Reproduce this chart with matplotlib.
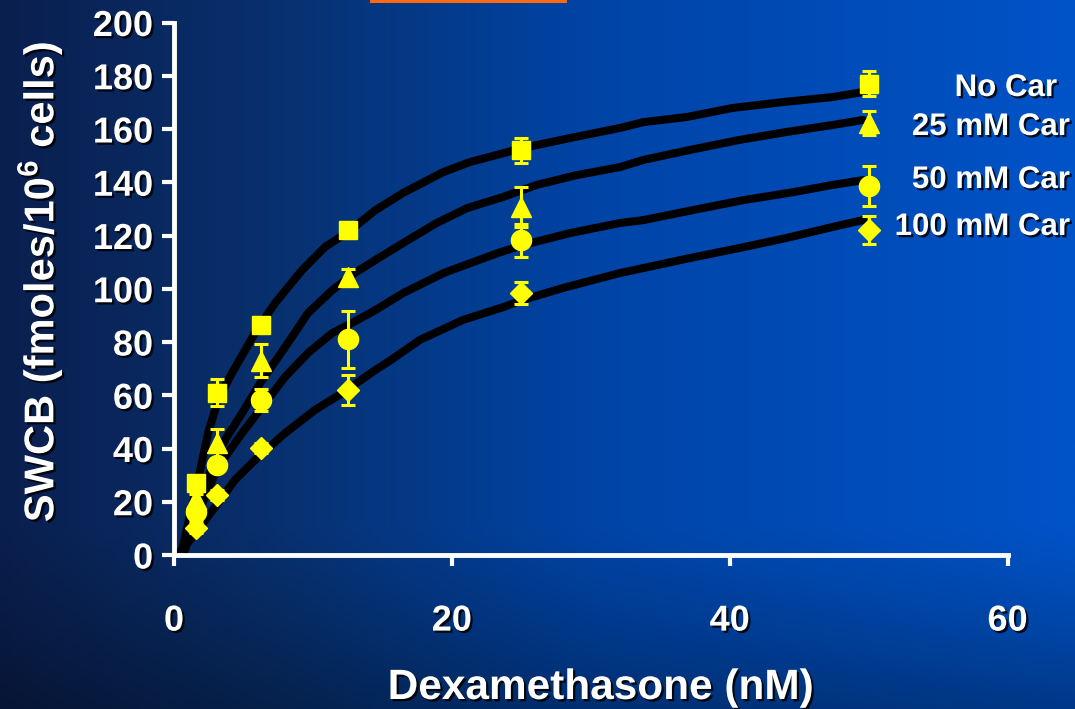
import numpy as np
import matplotlib
matplotlib.use("Agg")
import matplotlib.pyplot as plt
import matplotlib.patheffects as pe
from matplotlib.colors import LinearSegmentedColormap
from matplotlib.patches import Rectangle

plt.rcParams['font.family'] = ['Liberation Sans', 'DejaVu Sans']
plt.rcParams['font.weight'] = 'bold'
plt.rcParams['mathtext.fontset'] = 'custom'
plt.rcParams['mathtext.rm'] = 'Liberation Sans:bold'
plt.rcParams['mathtext.bf'] = 'Liberation Sans:bold'

# Dexamethasone doses (nM)
dex = [1.5625, 3.125, 6.25, 12.5, 25, 50]

# Specific whole-cell binding, mean and error per carnitine level
labels = ["No Car", "25 mM Car", "50 mM Car", "100 mM Car"]
no_car = [27, 61, 86.5, 122, 152, 177]
no_car_err = [2, 5, 2, 3, 4.7, 4.7]
car25 = [21, 42, 73, 104.5, 130.7, 162.2]
car25_err = [2, 5.5, 6.3, 3, 7.5, 4.5]
car50 = [16.2, 33.8, 58.2, 81, 118.3, 138.6]
car50_err = [3, 2, 4, 10.7, 6.2, 7.5]
car100 = [10.1, 22.5, 40.2, 62, 98.4, 122]
car100_err = [2, 2, 2, 5.6, 4, 5.3]

# Fitted saturation curves (x in nM, y in fmoles/10^6 cells)
fit_no_car_x = [0.3, 0.58, 1.66, 2.45, 3.17, 4.18, 5.83, 7.27, 9.22, 10.87, 12.53, 14.47, 16.49,
                19.37, 21.31, 25.13, 28.5, 32.1, 33.8, 36.9, 40.2, 43.8, 47.4, 49.6]
fit_no_car_y = [0, 1.9, 26.3, 45.8, 58.2, 68.4, 83.4, 94.6, 107, 115.7, 121.3, 129.4, 136,
                143.8, 147.6, 152.9, 156.6, 160.4, 162.6, 164.5, 167.9, 170.1, 172, 173.9]
fit_25_x = [0.3, 0.79, 2.45, 3.67, 4.9, 6.34, 8, 9.65, 11.4, 13, 14.5, 16.5, 18.9, 21.1, 23.7,
            26.1, 29, 32.1, 33.8, 37.1, 40.7, 44.1, 47.4, 49.6]
fit_25_y = [0, 3, 29.3, 43.2, 53.3, 65.7, 78.1, 90.9, 99.5, 105.9, 110.8, 117.2, 124.7, 130.3,
            134.5, 139, 142.7, 145.7, 148.4, 152.1, 155.9, 158.9, 161.5, 163.4]
fit_50_x = [0.3, 0.79, 1.51, 3.17, 4.9, 6.34, 8, 9.65, 11.4, 12.8, 14.5, 16.5, 19.4, 23.3, 25.1,
            28.5, 32.1, 33.8, 37.4, 41, 44.6, 47.4, 49.6]
fit_50_y = [0, 1.9, 13.1, 33.1, 45.8, 55.6, 66.9, 75.9, 83.4, 87.1, 92, 98.4, 105.9, 113.4,
            116.4, 120.9, 124.7, 125.8, 129.6, 133.3, 136.3, 139, 140.8]
fit_100_x = [0.3, 0.58, 1.73, 2.95, 4.39, 6.05, 8, 10.15, 12.1, 14.5, 15.6, 17.7, 20.8, 23.7,
             25.1, 28, 32.1, 33.8, 37.1, 40.7, 44.1, 47.4, 49.6]
fit_100_y = [0, 1.9, 9.4, 18, 28.2, 36.8, 45.8, 54.5, 60.8, 69.5, 73.2, 80.8, 88.3, 93.1, 95.8,
             100.3, 105.9, 107.8, 111.5, 115.3, 119.1, 123.2, 125.8]

W, H = 1075, 709
fig = plt.figure(figsize=(W / 100, H / 100), dpi=100)

# Slide-style blue background: dark navy at left, bright blue at right, dimmer at the bottom
bg_ax = fig.add_axes([0, 0, 1, 1], zorder=-10)
bg_ax.set_axis_off()
stops = [(0.0, "#0a1f4e"), (0.25, "#08306e"), (0.55, "#0044a6"), (1.0, "#0053c8")]
cmap = LinearSegmentedColormap.from_list("bg", stops)
xs = np.linspace(0, 1, 400)
row = cmap(xs)[:, :3]
ys = np.linspace(0, 1, 300)
shade = 1.0 - 0.32 * np.clip((ys - 0.74) / 0.26, 0, 1) ** 1.2
img = row[None, :, :] * shade[:, None, None]
bg_ax.imshow(img, aspect="auto", extent=[0, 1, 0, 1], origin="upper")
bg_ax.set_xlim(0, 1)
bg_ax.set_ylim(0, 1)
bg_ax.add_patch(Rectangle((370 / W, 1 - 3 / H), 197 / W, 3 / H, color="#ff6a10", lw=0))

ax = fig.add_axes([174 / W, 1 - 555 / H, (1007.6 - 174) / W, (555 - 22.5) / H])
ax.set_facecolor("none")
ax.set_xlim(0, 60)
ax.set_ylim(0, 200)

shadow = [pe.withSimplePatchShadow(offset=(1.6, -1.6), shadow_rgbFace="#000000", alpha=0.85)]

curve_color = "black"
for fx, fy in [(fit_no_car_x, fit_no_car_y), (fit_25_x, fit_25_y),
               (fit_50_x, fit_50_y), (fit_100_x, fit_100_y)]:
    ax.plot(fx, fy, color=curve_color, lw=5.8, solid_capstyle="round",
            solid_joinstyle="round", zorder=2)

yellow = "#ffff00"
series = [(no_car, no_car_err, "s", 12.5), (car25, car25_err, "^", 15),
          (car50, car50_err, "o", 14.5), (car100, car100_err, "D", 11.5)]
for vals, errs, mk, ms in series:
    ax.errorbar(dex, vals, yerr=errs, fmt=mk, color=yellow, ms=ms, mec=yellow,
                ecolor=yellow, elinewidth=2.2, capsize=5, capthick=2.2,
                zorder=3, clip_on=False)

for side in ["top", "right"]:
    ax.spines[side].set_visible(False)
for side in ["left", "bottom"]:
    ax.spines[side].set_color("white")
    ax.spines[side].set_linewidth(3.5)
    ax.spines[side].set_capstyle("projecting")

ax.set_xticks([0, 20, 40, 60])
ax.set_yticks(np.arange(0, 201, 20))
ax.tick_params(axis="x", colors="white", length=8, width=3, pad=27, labelsize=26)
ax.tick_params(axis="y", colors="white", length=9, width=3, pad=6, labelsize=26)
for lab in ax.get_xticklabels() + ax.get_yticklabels():
    lab.set_fontweight("bold")
    lab.set_path_effects(shadow)

fig.text(601 / W, 1 - 688 / H, "Dexamethasone (nM)", color="white", fontsize=30.5,
         fontweight="bold", ha="center", va="center", path_effects=shadow)
fig.text(40 / W, 1 - 282 / H, r"SWCB (fmoles/10$^{6}$ cells)", color="white", fontsize=30,
         fontweight="bold", ha="center", va="center", rotation=90, path_effects=shadow)

# Series names beside the curve ends
label_pos = [(1057, 88), (1070, 127), (1070, 180), (1070, 227)]
for text, (px, py) in zip(labels, label_pos):
    fig.text(px / W, 1 - py / H, text, color="white", fontsize=22.5, fontweight="bold",
             ha="right", va="center", path_effects=shadow)

fig.savefig("out.png", dpi=100)
